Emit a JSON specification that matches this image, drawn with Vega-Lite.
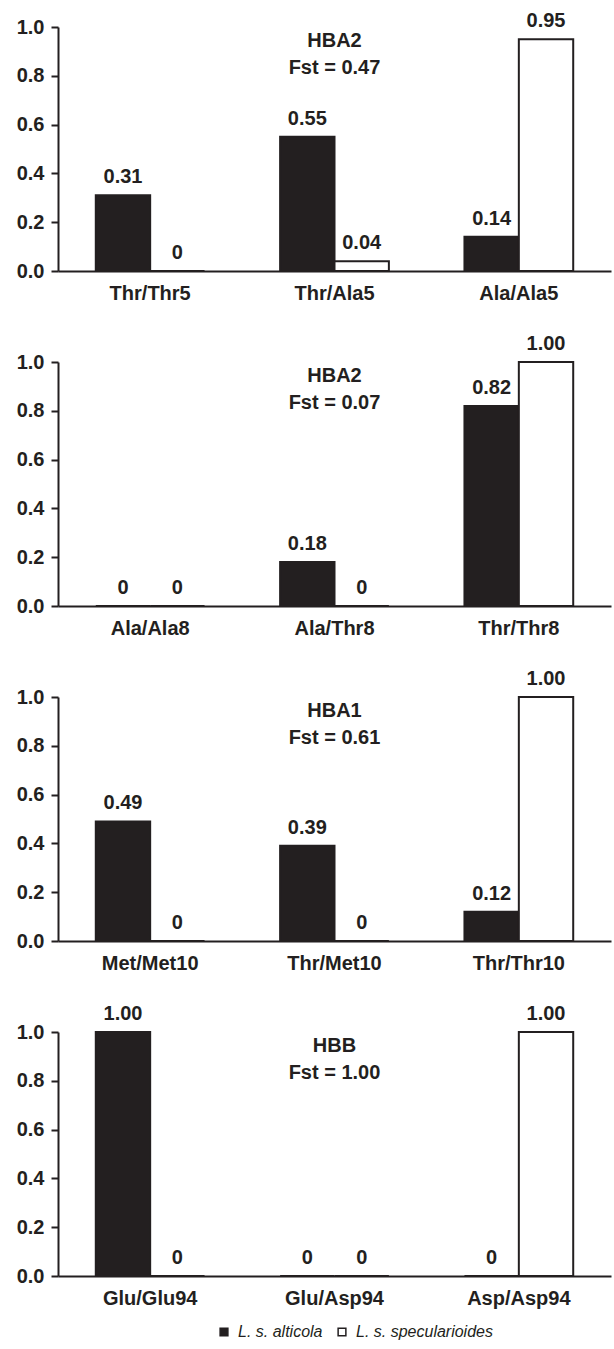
{
  "$schema": "https://vega.github.io/schema/vega-lite/v6.json",
  "background": "white",
  "padding": {"left": 16, "top": 11, "right": 2, "bottom": 4},
  "spacing": 91,
  "bounds": "flush",
  "datasets": {
    "freq": [
      {"panel": 1, "genotype": "Thr/Thr5", "population": "L. s. alticola", "value": 0.31, "label": "0.31"},
      {"panel": 1, "genotype": "Thr/Thr5", "population": "L. s. specularioides", "value": 0, "label": "0"},
      {"panel": 1, "genotype": "Thr/Ala5", "population": "L. s. alticola", "value": 0.55, "label": "0.55"},
      {"panel": 1, "genotype": "Thr/Ala5", "population": "L. s. specularioides", "value": 0.04, "label": "0.04"},
      {"panel": 1, "genotype": "Ala/Ala5", "population": "L. s. alticola", "value": 0.14, "label": "0.14"},
      {"panel": 1, "genotype": "Ala/Ala5", "population": "L. s. specularioides", "value": 0.95, "label": "0.95"},
      {"panel": 2, "genotype": "Ala/Ala8", "population": "L. s. alticola", "value": 0, "label": "0"},
      {"panel": 2, "genotype": "Ala/Ala8", "population": "L. s. specularioides", "value": 0, "label": "0"},
      {"panel": 2, "genotype": "Ala/Thr8", "population": "L. s. alticola", "value": 0.18, "label": "0.18"},
      {"panel": 2, "genotype": "Ala/Thr8", "population": "L. s. specularioides", "value": 0, "label": "0"},
      {"panel": 2, "genotype": "Thr/Thr8", "population": "L. s. alticola", "value": 0.82, "label": "0.82"},
      {"panel": 2, "genotype": "Thr/Thr8", "population": "L. s. specularioides", "value": 1.0, "label": "1.00"},
      {"panel": 3, "genotype": "Met/Met10", "population": "L. s. alticola", "value": 0.49, "label": "0.49"},
      {"panel": 3, "genotype": "Met/Met10", "population": "L. s. specularioides", "value": 0, "label": "0"},
      {"panel": 3, "genotype": "Thr/Met10", "population": "L. s. alticola", "value": 0.39, "label": "0.39"},
      {"panel": 3, "genotype": "Thr/Met10", "population": "L. s. specularioides", "value": 0, "label": "0"},
      {"panel": 3, "genotype": "Thr/Thr10", "population": "L. s. alticola", "value": 0.12, "label": "0.12"},
      {"panel": 3, "genotype": "Thr/Thr10", "population": "L. s. specularioides", "value": 1.0, "label": "1.00"},
      {"panel": 4, "genotype": "Glu/Glu94", "population": "L. s. alticola", "value": 1.0, "label": "1.00"},
      {"panel": 4, "genotype": "Glu/Glu94", "population": "L. s. specularioides", "value": 0, "label": "0"},
      {"panel": 4, "genotype": "Glu/Asp94", "population": "L. s. alticola", "value": 0, "label": "0"},
      {"panel": 4, "genotype": "Glu/Asp94", "population": "L. s. specularioides", "value": 0, "label": "0"},
      {"panel": 4, "genotype": "Asp/Asp94", "population": "L. s. alticola", "value": 0, "label": "0"},
      {"panel": 4, "genotype": "Asp/Asp94", "population": "L. s. specularioides", "value": 1.0, "label": "1.00"}
    ],
    "notes": [
      {"panel": 1, "genotype": "Thr/Ala5", "note": "HBA2\nFst = 0.47"},
      {"panel": 2, "genotype": "Ala/Thr8", "note": "HBA2\nFst = 0.07"},
      {"panel": 3, "genotype": "Thr/Met10", "note": "HBA1\nFst = 0.61"},
      {"panel": 4, "genotype": "Glu/Asp94", "note": "HBB\nFst = 1.00"}
    ]
  },
  "vconcat": [
    {
      "width": 553, "height": 244,
      "layer": [
        {
          "data": {"name": "freq"},
          "transform": [{"filter": "datum.panel === 1"}],
          "mark": {"type": "bar", "stroke": "#231f20", "strokeWidth": 2},
          "encoding": {
            "x": {"field": "genotype", "type": "nominal", "sort": null, "scale": {"paddingInner": 0.41, "paddingOuter": 0.205}},
            "xOffset": {"field": "population", "type": "nominal"},
            "y": {"field": "value", "type": "quantitative", "scale": {"domain": [0, 1]}},
            "color": {"field": "population", "type": "nominal"}
          }
        },
        {
          "data": {"name": "freq"},
          "transform": [{"filter": "datum.panel === 1"}],
          "mark": {"type": "text", "baseline": "bottom", "dy": -8},
          "encoding": {
            "x": {"field": "genotype", "type": "nominal", "sort": null},
            "xOffset": {"field": "population", "type": "nominal"},
            "y": {"field": "value", "type": "quantitative"},
            "text": {"field": "label"}
          }
        },
        {
          "data": {"name": "notes"},
          "transform": [{"filter": "datum.panel === 1"}],
          "mark": {"type": "text", "baseline": "top", "lineHeight": 27, "lineBreak": "\n"},
          "encoding": {
            "x": {"field": "genotype", "type": "nominal", "sort": null},
            "y": {"datum": 0.985},
            "text": {"field": "note"}
          }
        }
      ]
    },
    {
      "width": 553, "height": 244,
      "layer": [
        {
          "data": {"name": "freq"},
          "transform": [{"filter": "datum.panel === 2"}],
          "mark": {"type": "bar", "stroke": "#231f20", "strokeWidth": 2},
          "encoding": {
            "x": {"field": "genotype", "type": "nominal", "sort": null, "scale": {"paddingInner": 0.41, "paddingOuter": 0.205}},
            "xOffset": {"field": "population", "type": "nominal"},
            "y": {"field": "value", "type": "quantitative", "scale": {"domain": [0, 1]}},
            "color": {"field": "population", "type": "nominal"}
          }
        },
        {
          "data": {"name": "freq"},
          "transform": [{"filter": "datum.panel === 2"}],
          "mark": {"type": "text", "baseline": "bottom", "dy": -8},
          "encoding": {
            "x": {"field": "genotype", "type": "nominal", "sort": null},
            "xOffset": {"field": "population", "type": "nominal"},
            "y": {"field": "value", "type": "quantitative"},
            "text": {"field": "label"}
          }
        },
        {
          "data": {"name": "notes"},
          "transform": [{"filter": "datum.panel === 2"}],
          "mark": {"type": "text", "baseline": "top", "lineHeight": 27, "lineBreak": "\n"},
          "encoding": {
            "x": {"field": "genotype", "type": "nominal", "sort": null},
            "y": {"datum": 0.985},
            "text": {"field": "note"}
          }
        }
      ]
    },
    {
      "width": 553, "height": 244,
      "layer": [
        {
          "data": {"name": "freq"},
          "transform": [{"filter": "datum.panel === 3"}],
          "mark": {"type": "bar", "stroke": "#231f20", "strokeWidth": 2},
          "encoding": {
            "x": {"field": "genotype", "type": "nominal", "sort": null, "scale": {"paddingInner": 0.41, "paddingOuter": 0.205}},
            "xOffset": {"field": "population", "type": "nominal"},
            "y": {"field": "value", "type": "quantitative", "scale": {"domain": [0, 1]}},
            "color": {"field": "population", "type": "nominal"}
          }
        },
        {
          "data": {"name": "freq"},
          "transform": [{"filter": "datum.panel === 3"}],
          "mark": {"type": "text", "baseline": "bottom", "dy": -8},
          "encoding": {
            "x": {"field": "genotype", "type": "nominal", "sort": null},
            "xOffset": {"field": "population", "type": "nominal"},
            "y": {"field": "value", "type": "quantitative"},
            "text": {"field": "label"}
          }
        },
        {
          "data": {"name": "notes"},
          "transform": [{"filter": "datum.panel === 3"}],
          "mark": {"type": "text", "baseline": "top", "lineHeight": 27, "lineBreak": "\n"},
          "encoding": {
            "x": {"field": "genotype", "type": "nominal", "sort": null},
            "y": {"datum": 0.985},
            "text": {"field": "note"}
          }
        }
      ]
    },
    {
      "width": 553, "height": 244,
      "layer": [
        {
          "data": {"name": "freq"},
          "transform": [{"filter": "datum.panel === 4"}],
          "mark": {"type": "bar", "stroke": "#231f20", "strokeWidth": 2},
          "encoding": {
            "x": {"field": "genotype", "type": "nominal", "sort": null, "scale": {"paddingInner": 0.41, "paddingOuter": 0.205}},
            "xOffset": {"field": "population", "type": "nominal"},
            "y": {"field": "value", "type": "quantitative", "scale": {"domain": [0, 1]}},
            "color": {"field": "population", "type": "nominal"}
          }
        },
        {
          "data": {"name": "freq"},
          "transform": [{"filter": "datum.panel === 4"}],
          "mark": {"type": "text", "baseline": "bottom", "dy": -8},
          "encoding": {
            "x": {"field": "genotype", "type": "nominal", "sort": null},
            "xOffset": {"field": "population", "type": "nominal"},
            "y": {"field": "value", "type": "quantitative"},
            "text": {"field": "label"}
          }
        },
        {
          "data": {"name": "notes"},
          "transform": [{"filter": "datum.panel === 4"}],
          "mark": {"type": "text", "baseline": "top", "lineHeight": 27, "lineBreak": "\n"},
          "encoding": {
            "x": {"field": "genotype", "type": "nominal", "sort": null},
            "y": {"datum": 0.985},
            "text": {"field": "note"}
          }
        }
      ]
    }
  ],
  "resolve": {"scale": {"color": "shared"}},
  "config": {
    "view": {"stroke": null},
    "font": "Liberation Sans",
    "text": {"font": "Liberation Sans", "fontSize": 20, "fontWeight": "bold", "color": "#231f20"},
    "range": {"category": ["#231f20", "#ffffff"]},
    "axis": {
      "title": null,
      "grid": false,
      "labelFont": "Liberation Sans",
      "labelFontSize": 20,
      "labelFontWeight": "bold",
      "labelColor": "#231f20",
      "domainColor": "#231f20",
      "domainWidth": 2,
      "tickColor": "#231f20",
      "tickWidth": 2
    },
    "axisX": {"ticks": false, "labelAngle": 0, "labelPadding": 12},
    "axisY": {"values": [0, 0.2, 0.4, 0.6, 0.8, 1.0], "format": ".1f", "tickSize": 7, "labelPadding": 7},
    "legend": {
      "orient": "none",
      "legendX": 158,
      "legendY": 1297,
      "direction": "horizontal",
      "title": null,
      "labelFont": "Liberation Sans",
      "labelFontSize": 16,
      "labelFontStyle": "italic",
      "labelColor": "#231f20",
      "symbolType": "square",
      "symbolSize": 60,
      "symbolStrokeColor": "#231f20",
      "symbolStrokeWidth": 1.5,
      "symbolOpacity": 1,
      "columnPadding": 11,
      "labelOffset": 6
    }
  }
}
